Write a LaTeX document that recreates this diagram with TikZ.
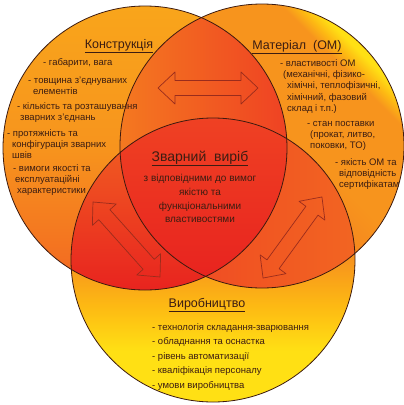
\documentclass[tikz,border=0pt]{standalone}
\usepackage{fontspec}
\setmainfont{Liberation Sans}
\usepackage{xcolor}
\usetikzlibrary{positioning}
\definecolor{txtc}{HTML}{3C1D12}
\definecolor{rim}{HTML}{3D1A0F}
\definecolor{arrc}{HTML}{9A2C1C}
\definecolor{yel}{HTML}{FFE014}
\definecolor{yelo}{HTML}{FDB913}
\definecolor{orn}{HTML}{F7941D}
\definecolor{ornm}{HTML}{F47920}
\definecolor{ornl}{HTML}{F9A51B}
\definecolor{ornd}{HTML}{F26522}
\definecolor{redo}{HTML}{EF4123}
\definecolor{redd}{HTML}{E8231F}
\pgfdeclarehorizontalshading{rgrad}{100bp}{color(0bp)=(ornd); color(40bp)=(ornm); color(55bp)=(orn); color(70bp)=(orn); color(72bp)=(yelo); color(74bp)=(yel); color(100bp)=(yel)}
\pgfdeclareverticalshading{bgrad}{100bp}{color(0bp)=(yel); color(34bp)=(yel); color(42bp)=(yelo); color(50bp)=(orn); color(75bp)=(ornd); color(100bp)=(ornd)}
\tikzset{
  circ/.style={draw=rim, line width=0.8pt},
  hdr/.style={font=\fontsize{12.5}{14}\selectfont, text=txtc, inner sep=0pt, anchor=base},
  itm/.style={font=\fontsize{9.5}{11.3}\selectfont, text=txtc, inner sep=0pt, align=left, anchor=north west},
  barr/.style={draw=arrc, line width=0.7pt, line join=round}
}
\newcommand{\dblarr}[3]{%
  \draw[barr, shift={#1}, rotate=#2] (-#3,0) -- ({-#3+17},16) -- ({-#3+17},7.5) -- ({#3-17},7.5) -- ({#3-17},16) -- (#3,0)
    -- ({#3-17},-16) -- ({#3-17},-7.5) -- ({-#3+17},-7.5) -- ({-#3+17},-16) -- cycle;}
\begin{document}
\begin{tikzpicture}[x=1pt, y=-1pt]
\useasboundingbox (0,0) rectangle (404,405);
\fill[white] (0,0) rectangle (404,405);
\coordinate (cl) at (145,148);
\coordinate (cr) at (262,146);
\coordinate (cb) at (213,260);

\shade[top color=ornl, bottom color=ornd, middle color=orn] (cl) circle (142pt);
\shade[shading=rgrad, shading angle=45] (cr) circle (142pt);
\shade[shading=bgrad] (cb) circle (142pt);

\begin{scope}
  \clip (cl) circle (142pt);
  \clip (cr) circle (142pt);
  \shade[left color=ornm, right color=redo] (118,15) rectangle (290,280);
\end{scope}
\begin{scope}
  \clip (cl) circle (142pt);
  \clip (cb) circle (142pt);
  \shade[top color=ornd, middle color=redo, bottom color=redd] (68,118) rectangle (290,292);
\end{scope}
\begin{scope}
  \clip (cr) circle (142pt);
  \clip (cb) circle (142pt);
  \shade[left color=redo, right color=ornd] (118,118) rectangle (356,292);
\end{scope}
\begin{scope}
  \clip (cl) circle (142pt);
  \clip (cr) circle (142pt);
  \clip (cb) circle (142pt);
  \shade[top color=redo, bottom color=redd] (118,118) rectangle (290,280);
\end{scope}

\draw[circ] (cl) circle (142pt);
\draw[circ] (cr) circle (142pt);
\draw[circ] (cb) circle (142pt);

\dblarr{(208,88)}{0}{50}
\dblarr{(126.5,239.5)}{-48.2}{50.3}
\dblarr{(292.5,237.5)}{54}{50.1}

\node[hdr] (hk) at (119,48) {\underline{Конструкція}};
\node[itm] (k1) at (43,57) {\strut- габарити, вага};
\node[itm] (k2) at (28,75) {\strut- товщина з’єднуваних\\\hspace*{5pt}елементів};
\node[itm] (k3) at (17,101) {\strut- кількість та розташування\\\hspace*{3pt}зварних з’єднань};
\node[itm] (k4) at (7,128) {\strut- протяжність та\\\hspace*{5pt}конфігурація зварних\\\hspace*{5pt}швів};
\node[itm] (k5) at (13,163) {\strut- вимоги якості та\\\hspace*{2pt}експлуатаційні\\\hspace*{4pt}характеристики};

\node[hdr] (hm) at (297,49) {\underline{Матеріал\ \ (ОМ)}};
\node[itm] (m1) at (280,58) {\strut- властивості ОМ\\\hspace*{3pt}(механічні, фізико-\\\hspace*{7pt}хімічні, теплофізичні,\\\hspace*{7pt}хімічний, фазовий\\\hspace*{7pt}склад і т.п.)};
\node[itm] (m2) at (307,118) {\strut- стан поставки\\\hspace*{3pt}(прокат, литво,\\\hspace*{3pt}поковки, ТО)};
\node[itm] (m3) at (335,157) {\strut- якість ОМ та\\\hspace*{4pt}відповідність\\\hspace*{4pt}сертифікатам};

\node[hdr, font=\fontsize{14}{16}\selectfont] (hc) at (200,161) {\underline{Зварний\ \ виріб}};
\node[itm, anchor=north, align=center, font=\fontsize{10}{13.7}\selectfont] (c) at (200,172) {\strut з відповідними до вимог\\якістю та\\функціональними\\властивостями};

\node[hdr] (hv) at (207,307) {\underline{Виробництво}};
\node[itm, font=\fontsize{9.5}{14.5}\selectfont] (v) at (152,320) {\strut- технологія складання-зварювання\\- обладнання та оснастка\\- рівень автоматизації\\- кваліфікація персоналу\\- умови виробництва};
\end{tikzpicture}
\end{document}
